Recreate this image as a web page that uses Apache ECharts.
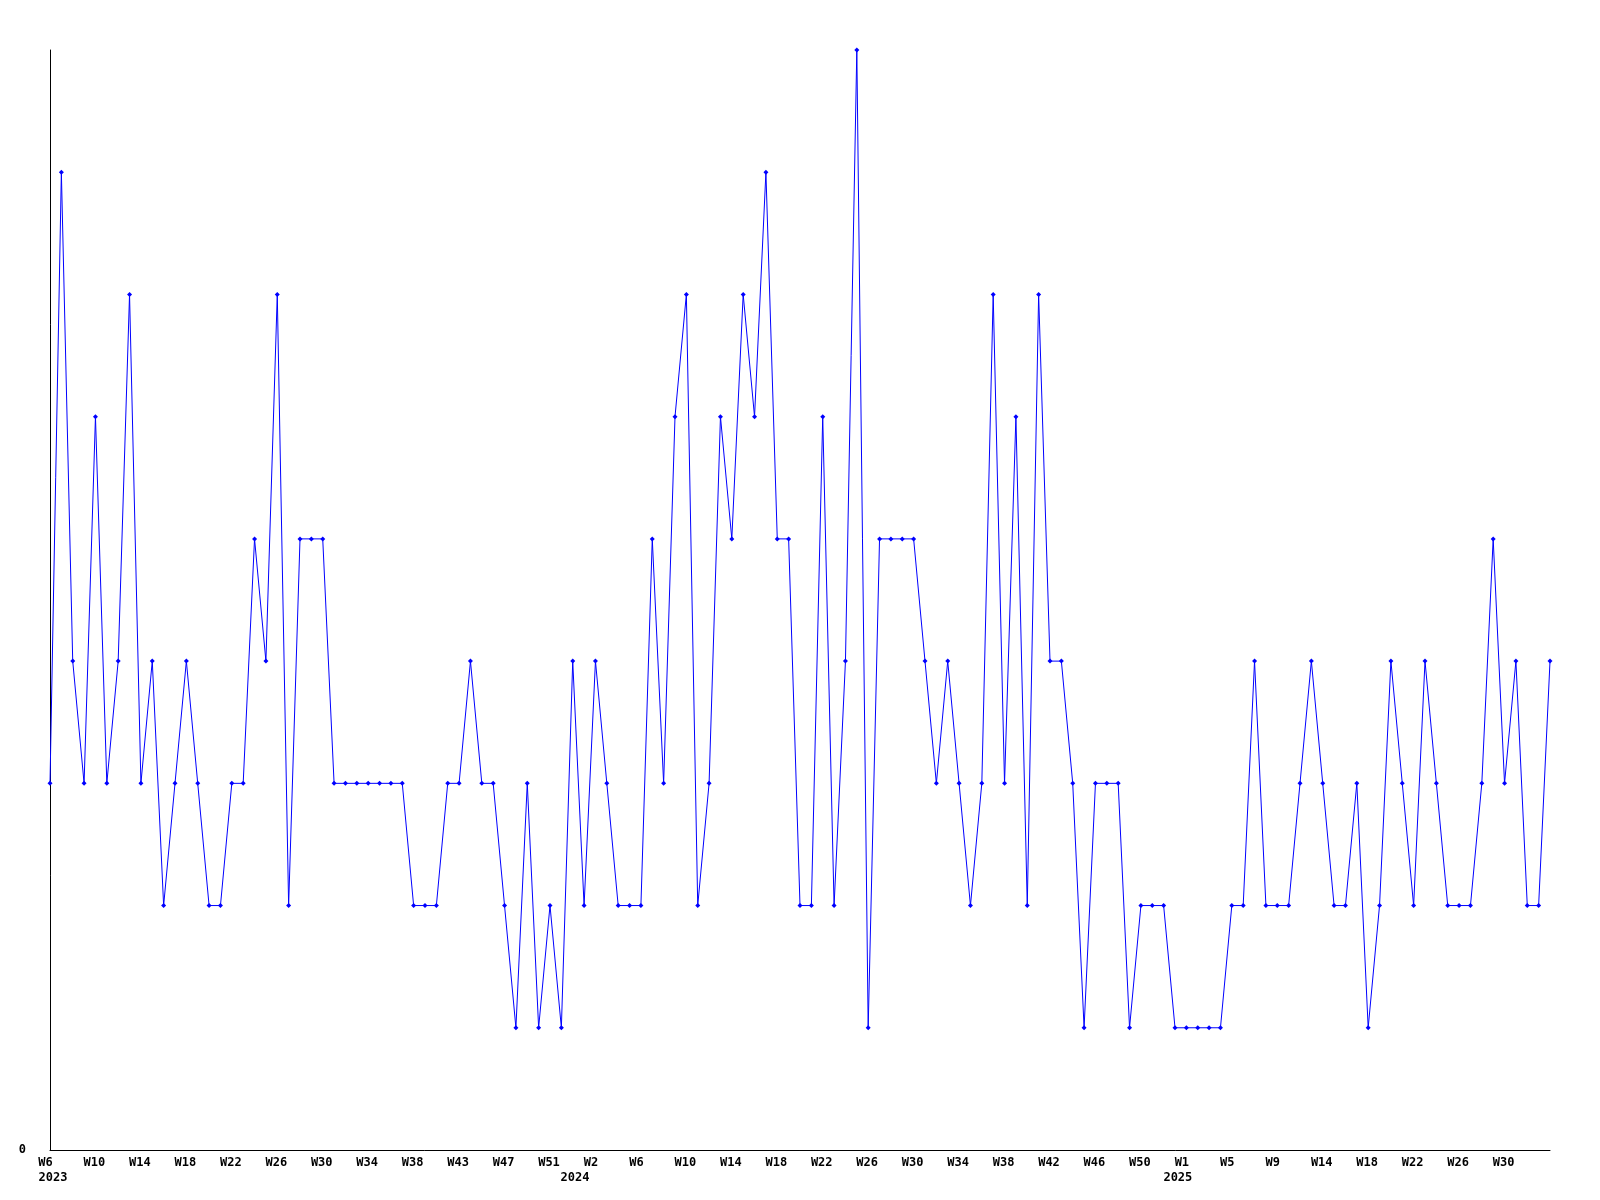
<!DOCTYPE html>
<html>
<head>
<meta charset="utf-8">
<script src="https://cdn.jsdelivr.net/npm/echarts@6/dist/echarts.min.js"></script>
<style>
html,body{margin:0;padding:0;background:#fff;}
#chart{width:1600px;height:1200px;}
</style>
</head>
<body>
<div id="chart"></div>
<script>
// weekly values, 2023-W06 .. 2025-W34
const values = [
  3,8,4,3,6,3,4,7,3,4,2,3,4,3,2,2,3,3,5,4,7,2,5,
  5,5,3,3,3,3,3,3,3,2,2,2,3,3,4,3,3,2,1,3,1,2,
  1,4,2,4,3,2,2,2,5,3,6,7,2,3,6,5,7,6,8,5,5,2,
  2,6,2,4,9,1,5,5,5,5,4,3,4,3,2,3,7,3,6,2,7,4,
  4,3,1,3,3,3,1,2,2,2,1,1,1,1,1,2,2,4,2,2,2,3,
  4,3,2,2,3,1,2,4,3,2,4,3,2,2,2,3,5,3,4,2,2,4
];
// tick labels shown every 4th week, as printed on the chart
const tickLabels = [
  'W6','W10','W14','W18','W22','W26','W30','W34','W38','W43','W47','W51',
  'W2','W6','W10','W14','W18','W22','W26','W30','W34','W38','W42','W46','W50',
  'W1','W5','W9','W14','W18','W22','W26','W30'
];
const yearTickIndex = [0, 12, 25];
const yearLabels = ['2023', '2024', '2025'];
const yearStyle = ['a', 'b', 'c'];

// category names (one per weekly point)
const categories = values.map((v, i) => 'p' + i);

const chart = echarts.init(document.getElementById('chart'), null, {renderer: 'canvas'});
const font = 'DejaVu Sans Mono';
const base = {fontFamily: font, fontWeight: 'bold', fontSize: 12, lineHeight: 15, color: '#000'};
chart.setOption({
  animation: false,
  backgroundColor: '#ffffff',
  grid: {left: 50, right: 50, top: 50, bottom: 50, containLabel: false},
  xAxis: {
    type: 'category',
    data: categories,
    boundaryGap: false,
    axisLine: {show: true, lineStyle: {color: '#000', width: 1}},
    axisTick: {show: false},
    splitLine: {show: false},
    axisLabel: {
      interval: 3,
      showMaxLabel: false,
      margin: 5,
      color: '#000',
      fontFamily: font,
      fontWeight: 'bold',
      fontSize: 12,
      lineHeight: 15,
      formatter: function (value, index) {
        if (index % 4 !== 0) return '';
        const t = index / 4;
        const lab = tickLabels[t] || '';
        const ws = lab.length <= 2 ? 'w2' : 'w3';
        const yi = yearTickIndex.indexOf(t);
        if (yi >= 0) {
          return '{' + ws + '|' + lab + '}\n{' + yearStyle[yi] + '|' + yearLabels[yi] + '}';
        }
        return '{' + ws + '|' + lab + '}';
      },
      rich: {
        w2: Object.assign({}, base, {padding: [0, 9, 0, 0]}),
        w3: Object.assign({}, base, {padding: [0, 2, 0, 0]}),
        a: Object.assign({}, base, {padding: [0, 0, 0, 6]}),
        b: Object.assign({}, base, {padding: [0, 41, 0, 0]}),
        c: Object.assign({}, base, {padding: [0, 17, 0, 0]})
      }
    }
  },
  yAxis: {
    type: 'value',
    min: 0,
    max: 9,
    interval: 9,
    axisLine: {show: true, lineStyle: {color: '#000', width: 1}},
    axisTick: {show: false},
    splitLine: {show: false},
    axisLabel: {
      margin: 24,
      color: '#000',
      fontFamily: font,
      fontWeight: 'bold',
      fontSize: 12,
      formatter: function (v) { return v === 0 ? '0' : ''; }
    }
  },
  series: [{
    type: 'line',
    data: values,
    symbol: 'diamond',
    symbolSize: 5,
    showAllSymbol: true,
    lineStyle: {color: '#0000ff', width: 1},
    itemStyle: {color: '#0000ff'},
    emphasis: {disabled: true}
  }]
});
</script>
</body>
</html>
